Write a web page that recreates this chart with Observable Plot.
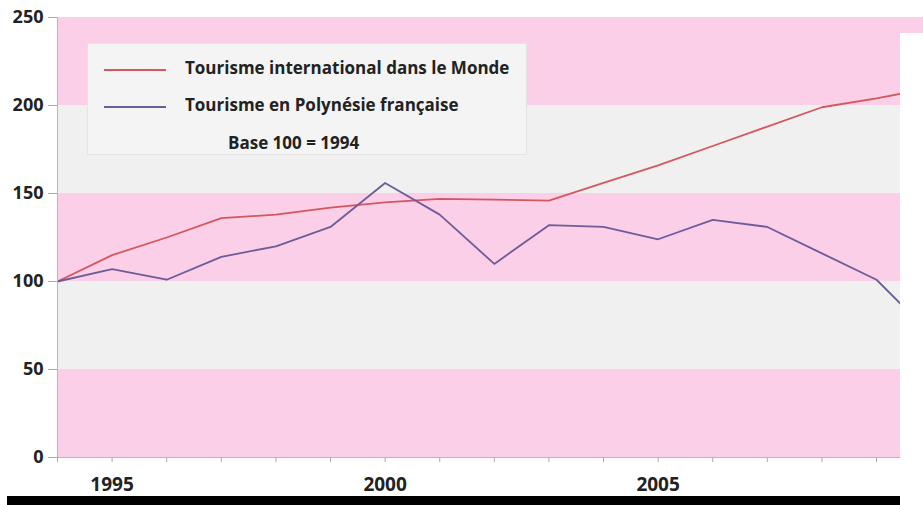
<!DOCTYPE html>
<html><head><meta charset="utf-8">
<script src="https://cdn.jsdelivr.net/npm/d3@7"></script>
<script src="https://cdn.jsdelivr.net/npm/@observablehq/plot@0.6"></script>
<style>
body{margin:0;background:#fff;font-family:"Open Sans",Lato,sans-serif;}
#wrap{position:relative;width:923px;height:505px;overflow:hidden;}
#legend{position:absolute;left:87px;top:43px;width:440px;height:112px;background:#f4f4f4;border:1px solid #e4e4e4;box-sizing:border-box;font-weight:700;font-size:17px;line-height:22px;color:#222;letter-spacing:0px;}
#legend .row{position:absolute;left:0;white-space:nowrap;}
#legend .sw{position:absolute;left:16px;width:62px;height:2px;}
#mask{position:absolute;left:900px;top:33px;width:30px;height:480px;background:#fff;}
#bar{position:absolute;left:7px;top:496px;width:893px;height:10px;background:#000;}
</style></head>
<body><div id="wrap"><div id="chart"></div>
<div id="legend">
  <div class="sw" style="top:25px;background:#d4575f"></div>
  <div class="row" style="left:97px;top:13px">Tourisme international dans le Monde</div>
  <div class="sw" style="top:62px;background:#6e5c99"></div>
  <div class="row" style="left:97px;top:50px">Tourisme en Polynésie française</div>
  <div class="row" style="left:140px;top:88px">Base 100 = 1994</div>
</div>
<div id="mask"></div><div id="bar"></div></div>
<script>
const years = [1994,1995,1996,1997,1998,1999,2000,2001,2002,2003,2004,2005,2006,2007,2008,2009,2010];
const monde = [100,115,125,136,138,142,145,147,146.5,146,156,166,177,188,199,204,210];
const polynesie = [100,107,101,114,120,131,156,138,110,132,131,124,135,131,116,101,70];
const bandLow = [0,50,100,150,200];
const bandHigh = [50,100,150,200,250];
const bandFill = ["#fbcfe7","#f0f0f0","#fbcfe7","#f0f0f0","#fbcfe7"];
const yTicks = [0,50,100,150,200,250];
const xLabels = [1995,2000,2005];

const series = [];
years.forEach((yr,i)=>{
  series.push({year:yr, v:monde[i], s:"monde"});
  series.push({year:yr, v:polynesie[i], s:"poly"});
});
const bands = bandLow.map((b,i)=>({y1:b,y2:bandHigh[i],fill:bandFill[i]}));

const chart = Plot.plot({
  width:923, height:505,
  marginLeft:57, marginRight:0, marginTop:17, marginBottom:48,
  style:{fontFamily:"'Open Sans', Lato, sans-serif", background:"transparent"},
  x:{domain:[1994,2009.86], label:null},
  y:{domain:[0,250], label:null},
  marks:[
    Plot.rect(bands,{y1:"y1",y2:"y2",fill:"fill"}),
    Plot.line(series,{x:"year",y:"v",z:"s",stroke:d=>d.s==="monde"?"#d4575f":"#6e5c99",strokeWidth:1.8,clip:true}),
    Plot.ruleY([0],{stroke:"#b8b8b8"}),
    Plot.ruleX([1994],{stroke:"#b8b8b8"}),
    Plot.axisX({ticks:d3.range(1994,2010),tickFormat:d=>xLabels.includes(d)?String(d):"",tickSize:5,tickPadding:15,stroke:"#aaa",fill:"#222",fontSize:19,fontWeight:700}),
    Plot.axisY({ticks:yTicks,tickSize:9,tickPadding:5,stroke:"#aaa",fill:"#222",fontSize:18,fontWeight:700})
  ]
});
document.getElementById("chart").appendChild(chart);
</script></body></html>
